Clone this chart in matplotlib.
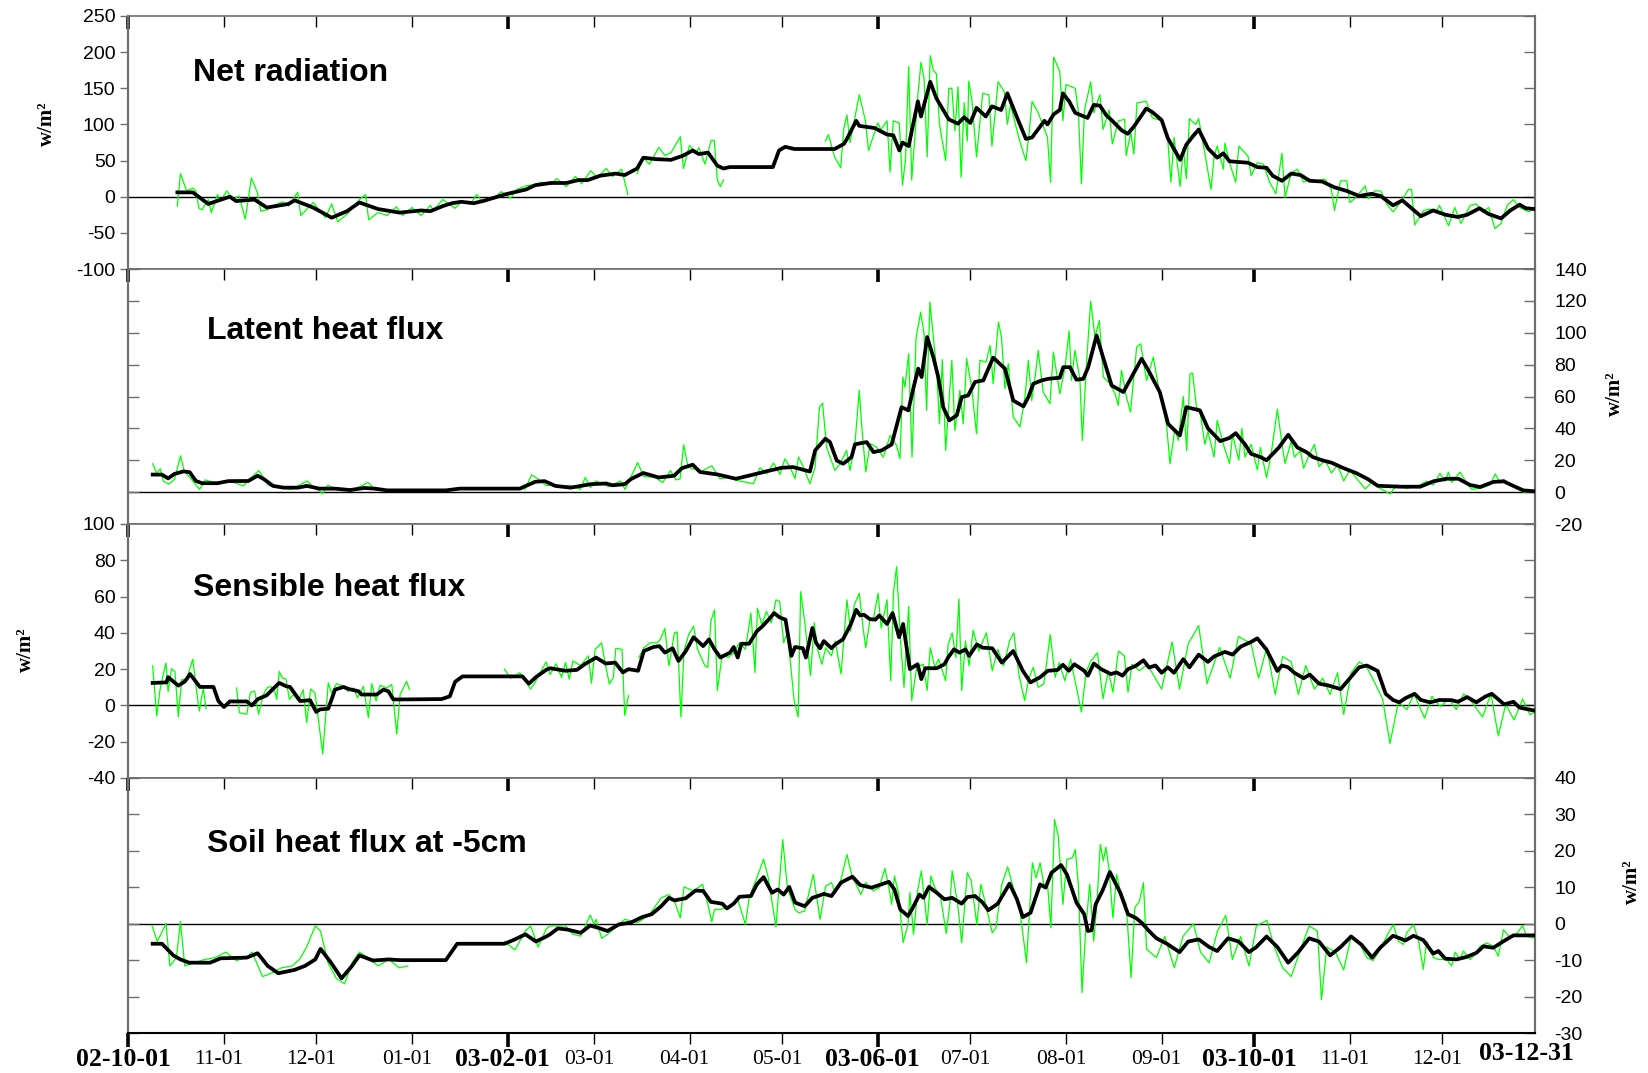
import numpy as np
import matplotlib
matplotlib.use('Agg')
import matplotlib.pyplot as plt
from matplotlib import transforms

plt.rcParams['axes.unicode_minus'] = False
nan = np.nan

# ---------------- axis definition (days since 2002-10-01) ----------------
month_days = [0, 31, 61, 92, 123, 151, 182, 212, 243, 273, 304, 335, 365, 396, 426]
month_labels = ['02-10-01', '11-01', '12-01', '01-01', '03-02-01', '03-01', '04-01', '05-01',
                '03-06-01', '07-01', '08-01', '09-01', '03-10-01', '11-01', '12-01']
major_days = [0, 123, 243, 365]
end_day = 456
end_label = '03-12-31'

# ---------------- Net radiation ----------------
nr_black_d = [16, 21, 26, 33, 35, 41, 45, 52, 54, 60, 66, 71, 75, 81, 88, 95, 98, 102, 105, 108, 112, 115,
              119, 122, 125, 129, 132, 137, 142, 146, 149, 153, 158, 161, 165, 167, 171, 176, 180, 183,
              185, 188, 191, 193, 195, 209, 211, 213, 216, 229, 232, 233, 236, 237, 242, 246, 248, 250,
              251, 253, 256, 257, 260, 262, 266, 269, 271, 273, 275, 278, 280, 283, 285, 288, 291, 293,
              297, 298, 300, 302, 303, 305, 307, 311, 313, 315, 317, 319, 322, 324, 326, 330, 332, 335,
              337, 341, 343, 345, 347, 350, 353, 355, 357, 363, 366, 369, 371, 374, 377, 380, 383, 387,
              391, 395, 399, 403, 406, 410, 413, 419, 423, 427, 431, 434, 438, 441, 445, 448, 451, 453, 456]
nr_black_v = [6, 6, -10, 0, -6, -4, -15, -10, -5, -15, -29, -20, -8, -17, -22, -19, -20, -13, -9, -7, -9, -6,
              -1, 3, 6, 10, 16, 19, 19, 23, 23, 29, 32, 30, 39, 54, 52, 51, 57, 64,
              59, 61, 43, 39, 41, 41, 64, 69, 66, 66, 73, 80, 105, 98, 95, 86, 85, 64,
              75, 70, 132, 111, 159, 136, 107, 101, 110, 102, 123, 111, 125, 120, 143, 111, 80, 82,
              105, 100, 114, 120, 143, 132, 116, 109, 127, 126, 113, 105, 92, 87, 97, 122, 117, 106,
              81, 51, 72, 83, 93, 67, 54, 60, 49, 47, 41, 40, 29, 22, 32, 30, 22, 21,
              13, 8, 1, 4, 1, -12, -5, -27, -19, -25, -28, -25, -16, -24, -30, -19, -11, -16, -17]
nr_green_d = [16, 17, 19, 21, 22, 23, 24, 26, 27, 29, 30, 32, 34, 36, 38, 40, 42, 43, 45, 47, 50, 52, 55,
              56, 58, 60, 64, 66, 68, 71, 75, 77, 78, 81, 84, 87, 89, 92, 95, 98, 99, 102, 106, 108, 111,
              113, 115, 119, 121, 124, 126, 129, 132, 134, 137, 139, 142, 145, 147, 150, 152, 155, 157,
              160, 162, 163.5, 165, 167, 169, 172, 174, 176, 179, 180, 182, 184, 185, 187, 189, 190, 191,
              192, 193, 195, 226, 227, 229, 231, 232, 233, 234, 237, 239, 240, 243, 244, 246, 247, 248,
              250, 251, 252, 253, 254, 256, 257, 258, 259, 260, 261, 262, 263, 265, 266, 267, 268, 269,
              270, 271, 272, 272.5, 273.5, 275, 277, 279, 280, 282, 284, 285, 286, 289, 291, 292, 293,
              295, 298, 299, 300, 302, 303, 304, 307, 308, 309, 310, 312, 313, 315, 316, 318, 319, 321,
              323, 323.5, 325, 326, 327, 330, 332, 335, 337, 338, 339, 341, 342, 343, 344, 346, 347, 349,
              351, 352, 353, 355, 355.5, 357, 359, 360, 363, 364, 366, 368, 370, 372, 374, 375, 377, 379,
              381, 383, 385, 388, 390, 391, 393, 395, 396, 398, 401, 402, 404, 406, 408, 410, 412, 415,
              416, 417, 420, 422, 424, 425, 428, 430, 432, 435, 437, 439, 441, 443, 445, 447, 449, 451,
              454, 456]
nr_green_v = [-13, 32, 8, 12, 8, -16, -18, -4, -22, 3, -6, 8, -4, 1, -31, 26, 5, -20, -18, -13, -7, -13, 6,
              -26, -17, -8, -29, -10, -35, -24, -4, 3, -32, -22, -26, -14, -26, -15, -26, -12, -19, -4, -16, -7, -10,
              3, -8, -1, 7, -2, 10, 15, 17, 20, 17, 25, 14, 28, 18, 36, 26, 39, 28,
              38, 3, nan, 32, 54, 45, 68, 57, 61, 83, 39, 71, 60, 68, 45, 78, 78, 23,
              14, 23, nan, 77, 86, 55, 40, 95, 113, 75, 141, 105, 64, 102, 93, 105, 34, 105,
              102, 16, 52, 180, 23, 141, 186, 164, 55, 195, 175, 170, 100, 50, 150, 150, 91, 152,
              27, 130, 77, 160, 134, 55, 143, 141, 70, 159, 145, 100, 127, 77, 50, 86, 132,
              116, 82, 20, 193, 173, 105, 155, 150, 118, 18, 120, 159, 116, 141, 93, 120, 73, 105,
              107, 57, 89, 59, 130, 132, 109, 105, 77, 20, 82, 14, 68, 25, 108, 100, 108, 60,
              10, 56, 70, 38, 74, 47, 20, 70, 56, 29, 47, 45, 20, 4, 60, -1, 33, 38,
              20, 24, 22, 24, 10, -19, 22, 22, -8, -1, 15, -3, 8, 8, -10, -21, -10, 10,
              10, -39, -19, -17, -21, -12, -40, -15, -37, -12, -10, -21, -15, -44, -37, -12, -4, -15,
              -21, -15]

# ---------------- Latent heat flux ----------------
le_black_d = [8, 11, 13, 15, 18, 20, 22, 24, 29, 32.5, 39, 42, 44, 47, 50.5, 55, 58, 62, 67, 72, 76.5, 80,
              84, 103, 107.5, 127, 132, 135, 138.5, 143.5, 150, 155, 157, 161, 163, 167, 172, 177, 179.5,
              183, 185.4, 191, 197, 201.6, 207, 212, 215.6, 221, 222.7, 226, 227.5, 229.7, 231.8, 234.5,
              235.6, 239.4, 241.6, 244.3, 247.5, 250.7, 252.9, 254.5, 256.1, 257.2, 259, 261, 262.6,
              264.2, 266.2, 268.6, 270.2, 272.3, 274.5, 277.2, 280.4, 284.2, 286.9, 290.2, 291.8, 293.4,
              296.1, 298.3, 302, 303.1, 305.3, 307.4, 309.6, 311.2, 313.9, 316, 318.8, 322.6, 325.8,
              328.5, 330.7, 334.4, 337.1, 340.9, 343, 347.4, 350, 354, 357, 359, 362, 364, 367, 369, 373,
              376, 379, 382, 384, 387, 390, 394, 398, 402, 405, 412.3, 418.8, 423.1, 427.4, 431.2, 434.9,
              438.2, 442.5, 445.8, 449, 452.2, 456]
le_black_v = [11, 11, 8.6, 11.4, 13, 12.5, 7, 5.6, 5.6, 6.9, 7, 10.3, 8.2, 3.9, 2.8, 2.8, 3.9, 2.2, 2.2, 1.3, 2.6, 2.2,
              1.1, 1.1, 2.2, 2.2, 6.5, 6.9, 3.9, 2.8, 5, 5.4, 4.3, 5, 8.2, 12, 9.2, 10.3, 15,
              17.2, 12.6, 11.1, 8.4, 10.5, 13.1, 15.3, 15.7, 12.9, 26.2, 33.5, 31.4, 19.8, 17.8, 22,
              30, 31.4, 25.1, 26.2, 30, 53.3, 51.3, 64.9, 77.5, 72.2, 97.3, 84.7, 72.2,
              53.3, 45, 48.2, 59.6, 60.7, 69.1, 70.1, 84.4, 77.5, 57.5, 53.8, 59.6, 68,
              70.1, 71.1, 71.8, 78.4, 78.4, 70.5, 71.1, 78.4, 98.3, 84.7, 66.9, 62.8, 74.2,
              83.7, 76.4, 62.8, 42.8, 35.6, 53.3, 51.3, 40, 32, 34, 37, 30, 24, 22, 20, 28,
              36, 28, 25, 22, 20, 18.5, 15, 12, 8, 4, 3.4, 3.4, 6.8, 8.4, 8.4, 4.5,
              3.2, 6.4, 6.8, 3.9, 1.1, 0.5]
le_green_d = [8, 9.3, 10.5, 11.4, 13.2, 15.1, 17, 18.2, 20.7, 23.2, 25, 28, 33, 37.4, 40, 42.4, 45.5, 49.2, 53,
              58, 60.4, 63.2, 64.7, 67.8, 72.8, 77.8, 80.2, 85, 100, 128.6, 130.8, 132.9, 135.4, 139.8,
              144.1, 146.6, 148.2, 149.9, 151.6, 155.9, 159.6, 161.1, 162.7, 165.2, 167.1, 170.8, 173.3,
              175.8, 177.6, 178.9, 180.1, 181.3, 182.6, 184.4, 185.4, 189.2, 191.9, 195.1, 197.3, 202.7,
              204.8, 207, 209.2, 211.3, 212.9, 214.6, 216.2, 217.3, 218.9, 221, 222.7, 224.1, 225.1,
              226.4, 229.1, 230.8, 232.9, 234, 235.6, 237, 238, 239.1, 240.5, 242.6, 244.8, 247, 249.1,
              250.2, 251.1, 251.8, 253, 254.1, 255.4, 256.9, 258, 258.8, 259.9, 261, 262.1, 263, 263.9,
              265, 267, 268, 269.6, 270.7, 271.8, 273.4, 275, 276.1, 278.1, 279.4, 280.4, 282.1, 283.1,
              284.2, 285.3, 286.9, 289.1, 290.7, 291.8, 292.9, 293.9, 295, 296.6, 298.8, 299.9, 302,
              303.7, 305, 305.8, 306.9, 308.5, 309.3, 310.7, 312, 313.4, 314.8, 316.1, 318.2, 319.9,
              320.9, 322, 323.6, 324.9, 326.9, 328.2, 330.1, 332.3, 333.9, 335, 336.6, 337.7, 339.3,
              340.4, 342, 343.1, 344.2, 345, 346.3, 347.4, 349, 350, 352, 353, 355, 357, 358, 360, 361,
              362, 364, 366, 367, 369, 370.5, 372.5, 374, 375, 377, 378, 380, 381, 383, 384.5, 386, 388,
              390, 392, 394, 396, 398, 401, 403, 405.8, 409, 411.2, 414.4, 418.8, 420.9, 423.1, 425.2,
              426.9, 427.9, 429, 431.7, 433.9, 435.5, 438.2, 441.4, 443.1, 444.7, 445.8, 449, 452.2, 456]
le_green_v = [17.8, 12, 14.6, 7, 5, 8, 22.8, 13.5, 7.7, 1.7, 7.7, 6, 7, 3.9, 9.2, 13.5, 4.3, 2.8, 1.7,
              7, 2.8, -0.9, 4.3, 1.7, 1.3, 6, 1.3, 1.1, nan, 1.7, 10.8, 8.2, 4.3, 3.9,
              3.9, 1.7, 9.2, 2.8, 7, 3.4, 7, 1.7, 8.2, 18.5, 9.9, 9.2, 6,
              13.5, 7.7, 8.2, 29.7, 17.8, 14.6, 14.6, 12.6, 16.5, 8.4, 9.4, 7.3, 5.3,
              15.3, 11.5, 18.2, 11.1, 20.9, 15.6, 8.4, 22, 15.6, 5.3, 15.6, 53.3, 55.8,
              28.2, 13.6, 17.8, 26.2, 13.6, 30.4, 63.8, 36.6, 12.6, 30.4, 28.2, 22, 35.6, 29.2,
              20.9, 72.2, 65.9, 86.8, 22, 96.3, 112.9, 99.2, 51.3, 119.3, 97.3, 76.4, 42.8, 83.1,
              26.2, 82.7, 38.7, 63.8, 42.8, 83.7, 65.9, 36.6, 82.7, 81.6, 92, 68, 106.7, 97.3,
              64.9, 80.6, 47.1, 40.9, 59.6, 82.7, 57.5, 71, 88.9, 62.8, 55.5, 87.9, 61.7,
              78.4, 101.2, 70.1, 88.9, 71, 32.4, 82.7, 119.7, 97.3, 107.8, 72.2, 68, 61.7,
              54.4, 76.4, 59.6, 50.2, 91, 93.1, 70.1, 84.7, 66.9, 57.5, 41.8, 17.8, 39.8,
              32.4, 60, 26.2, 74.2, 74.7, 53.3, 51.3, 30, 38, 22, 45, 30, 18, 36, 20, 40,
              22, 30, 14, 28, 9, 24, 52, 30, 18, 32, 22, 26, 15, 24, 30, 16, 20,
              12, 17, 7, 14, 9, 2, 6, 2.3, -1.1, 4.5, 2.3, 4.5, 6.8, 4.5, 11.8,
              6.8, 12.5, 6.1, 12.5, 5.7, 1.8, 2.3, 4.5, 11.4, 5.7, 8, 3.4, 0, 0.5]

# ---------------- Sensible heat flux ----------------
sh_black_d = [8, 12.5, 13, 16.3, 18.5, 20.1, 23.3, 27.7, 29.3, 31.1, 33, 38.5, 40.1, 42.2, 44.9, 46.6, 49,
              51.4, 52.5, 55.8, 59, 61, 62.2, 64.9, 67.1, 69.8, 71.4, 74.7, 75.7, 80.6, 82.8, 84.4, 86,
              88.2, 101.6, 104.3, 106, 108.4, 127.8, 129.9, 132.2, 135.6, 136.8, 141.8, 145.5, 148,
              151.7, 154.8, 157.9, 160.4, 162.2, 165.3, 167.2, 170.3, 172.2, 174, 176.5, 178.4, 180.8,
              183.3, 186.4, 188.3, 190.1, 192, 195.1, 196.3, 197.6, 198.8, 201.3, 203.8, 205.6, 208.1,
              209.4, 211.2, 213.1, 215, 216.2, 218.7, 219.7, 221.8, 223, 224.3, 225.5, 228, 229.2,
              231.7, 234.2, 236, 237.3, 238.5, 240.4, 242.2, 243.5, 246, 247.8, 249.9, 251.2, 253.4,
              255.9, 257.1, 258.4, 262.1, 264.6, 265.8, 267.7, 269.5, 271.4, 272.6, 275.1, 277, 280.1,
              283.2, 286.9, 290, 292.5, 295.6, 298.1, 301.2, 303, 304.9, 306.7, 309.9, 311.1, 313,
              315.4, 318.5, 320.4, 322.3, 324.1, 326.6, 329.1, 330.9, 333, 335, 337, 339, 342, 344, 347,
              350, 352, 355.5, 358, 360.6, 364, 366, 369, 372.5, 374, 376, 378, 381, 383, 386, 389, 393,
              396, 399, 401.5, 405, 407.6, 410, 412, 414, 417, 419, 422, 425, 429, 431, 434, 437, 440,
              442, 446, 449, 451, 456]
sh_black_v = [12.4, 12.7, 15.6, 10.9, 13.3, 17.3, 10.2, 10.2, 2.4, -0.9, 2.2, 2.2, 0, 3.6, 5.5, 8.4, 12.4,
              10.5, 10.2, 2.4, 2.9, -3.6, -2.2, -1.8, 8.7, 10.2, 9.1, 7.8, 6, 6, 8.7, 7.8, 3.3,
              3.3, 3.5, 5, 13, 16, 16, 12, 15.6, 19.7, 20.5, 19.1, 19.6, 22.7,
              26.4, 23.1, 23.6, 18.2, 20, 19.1, 30, 32.2, 32.7, 29.1, 31.5, 24.5, 30,
              37.6, 32.7, 36.4, 30.9, 26.4, 29.1, 32.2, 26.4, 34, 34, 40.9, 43.6, 48.2,
              50.9, 48.5, 47.3, 27.3, 32.2, 31.5, 26.4, 42.7, 34.5, 31.5, 35.5, 31.5, 33.6,
              36.4, 44.5, 52.7, 49.6, 50, 47.6, 47.3, 49.6, 44.9, 50.9, 37.6, 44.9, 20,
              22.7, 14.5, 20.5, 20.5, 22.7, 26.4, 30.9, 29.1, 30.9, 27.3, 33.6, 31.8, 31.5,
              23.6, 30, 19.1, 12.7, 15.5, 19.1, 19.5, 22.4, 19.1, 22.7, 19.1, 16.4, 23.1,
              20, 17.3, 18.2, 16.4, 20, 21.8, 24.9, 20.9, 22, 18, 21, 18, 25.5, 21, 28,
              24, 27, 29.5, 28, 32.4, 35, 37, 30.7, 19, 22, 21, 18, 15, 17, 12, 11, 9,
              15, 21, 22, 19, 6.4, 3, 1.7, 4, 6.4, 3, 1.7, 3, 2.9, 2, 4.6, 1.7, 5,
              6.4, 0.6, 2, -1.2, -2.9]
sh_green_d = [8, 9.3, 10.4, 11.5, 12.3, 13, 14.1, 15.2, 16.3, 17.4, 19, 21, 22.3, 23.1, 24.4, 25.3, 30,
              35.2, 36.1, 38.5, 39.7, 41.1, 42.3, 43.9, 45, 46.3, 47.7, 48.2, 49, 50.1, 51.2, 52.3, 53.6,
              55.2, 56.8, 57.9, 59.2, 60.6, 63.1, 64.9, 66, 67.6, 69.8, 71.4, 73.1, 74.4, 76.3, 77.9, 79,
              80.4, 81.7, 83.8, 85.5, 87.1, 88.2, 90.3, 91.2, 105, 122, 124, 127, 130.5, 132, 135.5,
              136.8, 138.7, 140.5, 141.8, 143, 144.2, 146.7, 149.2, 150.2, 151.4, 153.5, 154.8, 156,
              157.3, 158.1, 160.1, 161, 162.2, 164, 165.6, 167.2, 169.3, 171.5, 172.5, 174, 175.3, 177.1,
              178, 179.2, 180.2, 181.7, 183.3, 184.6, 187, 187.9, 188.9, 190.1, 191, 192.6, 194.5, 196.3,
              198.2, 200.1, 201.9, 203.2, 204, 205.4, 206.9, 208.5, 210, 211.2, 212.5, 213.7, 215.9,
              217.2, 218, 219.3, 221.2, 222.4, 223.6, 224.9, 226.1, 228, 229.2, 231.1, 233, 234.2, 235.4,
              237, 238.3, 239.1, 240.4, 241.6, 243.1, 244.1, 246, 247.2, 248.1, 249.1, 250.3, 251.5, 253,
              254, 255.6, 257.7, 259, 260, 261.5, 262.7, 265, 265.8, 267.1, 268.3, 269.3, 270.2, 271.4,
              272.6, 273.9, 275.7, 278.2, 280.1, 281.9, 283.8, 285.7, 287.1, 288.8, 290.6, 291.9, 293.4,
              295, 296.8, 298.9, 300.5, 301.8, 303.6, 305.5, 306.7, 309, 310.5, 312, 314.2, 316, 317.7,
              319.2, 321, 322.9, 324.1, 325.4, 327.8, 330.3, 335, 338.4, 340.8, 343.6, 347, 349.7, 353.8,
              357.2, 359.9, 364, 366.4, 369.1, 371.8, 374.2, 377, 379.3, 381.7, 384.5, 387.2, 389.6, 392,
              394, 396.4, 399.1, 401.5, 404.2, 406.6, 409, 411.7, 414.5, 416.8, 420.2, 422.6, 425.3,
              428.1, 430.5, 432.9, 435.6, 439, 441.7, 444.1, 446.5, 449.2, 452, 454.3, 456]
sh_green_v = [21.8, -5.8, 9, 17.8, 23.3, 7.6, 20.2, 18.7, -6.2, 14.2, 14.5, 25.5, 6.9, -3.1, 9.6, -1.8, nan,
              9.6, -4, -4.9, 7.3, 7.8, -4.9, 6, 9.6, 10.5, 6.9, 3.3, 18.7, 15, 14.5, 3.3, 6,
              2.4, 8.7, -9.5, 9, 6.9, -26.7, 12.4, 6.9, 12, 10.5, 7.8, 9.6, 4.2, 10.5, -6.7, 12,
              2.4, 11.1, 9.6, 11.5, -15.8, 6, 13.3, 8.7, nan, 20, 15, 18, 9, 13, 24,
              17, 23, 15.5, 23.6, 14.5, 24.5, 22, 27.3, 12.2, 30.9, 34.5, 21.8, 11.8,
              15.5, 31.5, 30.9, -5.5, 5.5, nan, 26.4, 31.8, 34.5, 34.5, 36.4, 42.4, 21.8, 40,
              40.5, -6.4, 30, 39, 43.6, 30.9, 21.8, 21, 46.4, 52.7, 8.2, 28.2, 26.4, 29,
              34.5, 30.9, 50.9, 18.2, 53.6, 44.5, 51.8, 45.5, 58.2, 57.3, 34.5, 40, 2.7,
              -6.4, 62.7, 46.4, 16.4, 45.5, 30, 22.7, 31.8, 27.3, 35.5, 17.3, 58.2, 41, 55.5,
              61.8, 41.8, 31.8, 46.4, 47.8, 61.8, 42.7, 58.2, 13.6, 62.7, 76.4, 37.3, 10, 54.5,
              2.7, 21, 22.7, 8.2, 31.8, 21, 25.5, 13.6, 33.6, 40, 26.4, 58.7, 8.2, 35.5,
              21.8, 41.5, 30, 40, 19.1, 30.9, 21.8, 35.5, 40, 16.4, 2.7, 14.5, 21,
              10, 11.8, 39, 15.5, 23.6, 13.6, 25.5, 15.5, -3.6, 18.2, 24.5, 29, 3.6, 19.1,
              7.3, 30, 27.3, 7.3, 22.7, 19.1, 22.7, 9, 35, 9, 34, 44, 12, 32,
              15, 38, 34, 15, 32, 6, 27, 24, 6, 22, 9, 15, 6, 18,
              -5, 18, 24, 21, 12, 3.5, -21, 1.7, -2.3, 6.4, -7, 5, -0.6,
              3.5, -2.3, 6.4, 1.7, -6.4, 6.4, -16.8, 0.6, -8, 3.5, -5, -4]

# ---------------- Soil heat flux at -5 cm ----------------
gs_black_d = [8, 11, 14.7, 17, 19.8, 26.6, 30, 38.5, 42, 45.3, 48.7, 53.9, 57.3, 60.7, 62.4, 65.8, 69.2, 72.6,
              75, 79.4, 84.5, 88, 103, 106.7, 122, 125.4, 128.8, 132.2, 135.6, 136.8, 139.3, 142.4, 146.7,
              149.8, 152.3, 155.4, 159.1, 162.9, 166.6, 169.7, 172.8, 175.3, 177.1, 180.8, 183.9, 186.4,
              188.9, 192.6, 194.1, 196.3, 198.2, 201.9, 203.8, 206, 208.7, 210.6, 212.5, 214.3, 216.2,
              219.3, 221.8, 223.6, 225.5, 228, 231.1, 234.8, 237.3, 241, 244.1, 246.6, 248.4, 250.3,
              252.8, 254.6, 256.5, 257.8, 259.6, 262.1, 264.6, 267.1, 270.2, 272, 274.5, 277, 278.8,
              281.9, 285.7, 288.1, 290, 292.5, 295.6, 297.4, 299.3, 302.4, 304.3, 307.4, 309.9, 311.1,
              312.3, 313.6, 316, 318.2, 321.6, 324.1, 326.6, 328.5, 330.9, 333.3, 336.7, 340.8, 343.6,
              347, 350.4, 353, 356.5, 360, 363.3, 365.7, 369, 372.5, 376, 379.3, 382.8, 386, 389.6, 393,
              396.4, 399.8, 403.2, 405.8, 410, 414, 416.6, 419.8, 423, 424.7, 426.9, 430.6, 433.9, 437,
              439.3, 442.5, 445.8, 449, 456]
gs_black_v = [-5.5, -5.5, -8.7, -9.8, -10.7, -10.7, -9.5, -9.3, -8.1, -11.6, -13.6, -12.7, -11.6, -9.8, -6.9, -10.7, -15, -11.6,
              -8.7, -10.1, -9.8, -10, -10, -5.5, -5.5, -4.3, -2.9, -4.9, -3.5, -2.9, -1.3, -1.6, -2.5,
              -0.5, -1.1, -2, -0.2, 0.3, 1.8, 2.6, 4.8, 7.1, 6.4, 7, 9.1, 9,
              6, 5.5, 4.2, 5.5, 7.4, 7.6, 10.8, 12.8, 8.5, 9.4, 8, 10.1, 5.8,
              4.8, 7.1, 7.6, 8.2, 7.6, 11.3, 12.9, 10.6, 9.9, 10.8, 11.5, 9.4, 3.9,
              2.1, 4.8, 8, 7.1, 10.1, 8.5, 6.7, 7.1, 5.5, 7.3, 7.6, 5.8, 3.7,
              5.5, 11, 6.7, 1.8, 3, 10.8, 9.9, 14, 16.1, 13.5, 5.8, 2.6, -2,
              -1.8, 5.3, 9.4, 14.2, 8.5, 2.6, 1.6, 0.3, -2, -4, -5.5, -7.8, -4.9,
              -4.3, -6.4, -7.5, -4, -4.9, -7.8, -6.4, -3.5, -6.4, -10.7, -7.8, -4, -4.9, -8.7, -6.4,
              -3.5, -5.8, -9.3, -6.6, -3.3, -4.6, -3.3, -4.5, -8.2, -7.5, -9.6, -9.8, -9.1, -8,
              -6.2, -6.6, -4.8, -3.2, -3.2]
gs_green_d = [7.8, 9.5, 12.3, 13.6, 15.7, 17, 18.4, 21.5, 24.9, 28.3, 31.7, 35.1, 38.5, 40.2, 43.6, 46.4, 49.8,
              53.2, 55.6, 57.9, 60.7, 62.4, 64.8, 67.5, 70.2, 72.6, 75, 77.7, 81.1, 84.5, 87.9, 90.7, 105,
              122, 125.4, 128.8, 130.5, 132.9, 135.6, 136.8, 141.8, 144.2, 146.7, 149.8, 151.1, 151.7,
              153.5, 155.4, 157.9, 161, 165.3, 169.1, 172.8, 175.3, 177.1, 179, 180.2, 183.3, 186.2,
              187.7, 189.2, 190.1, 192, 195.1, 197.6, 200.1, 201.3, 203.8, 206, 207.5, 210, 212.2,
              213.7, 216.2, 217.4, 219.3, 222.1, 224.3, 226.1, 228, 229.2, 231.1, 233, 234.8, 236,
              237.5, 239.1, 241.6, 243.5, 245.3, 246.6, 247.5, 248.4, 249.7, 251.2, 252.8, 253.4, 254.6,
              255.9, 257.1, 259, 260.2, 261.5, 263.3, 265.2, 266.4, 267.1, 268.9, 270.2, 272, 273.3,
              275.1, 276.4, 278.2, 280.1, 281.3, 283.2, 285.1, 286.9, 288.8, 291.2, 293.1, 294.3, 295.6,
              296.8, 298.1, 299.1, 300.3, 301.5, 303, 304.3, 306.1, 307, 308, 309.2, 310.5, 311.7, 313,
              314.2, 315.1, 316.1, 316.9, 317.9, 319.2, 320.4, 321.6, 323.5, 325.1, 326.3, 327.8, 329.1,
              330.1, 333.3, 336, 339.1, 341.9, 345.3, 347.6, 350.4, 353.1, 355.8, 357.9, 360.6, 363.3,
              365.7, 369.1, 371.5, 374.2, 377, 379.7, 382.8, 385.5, 386.8, 388.5, 391.3, 394, 396.4,
              398.8, 401.5, 403.5, 405.8, 408.5, 410.1, 411.7, 413.4, 414.4, 416.6, 418.2, 419.8, 420.9,
              423.1, 424.7, 427.4, 429, 430.1, 431.7, 432.8, 435, 436.6, 438.2, 440.4, 442.5, 444.1,
              445.8, 447.9, 450.1, 452, 453.3, 455.5]
gs_green_v = [-0.6, -4.9, 0, -11.6, -9.3, 0.6, -11.6, -10.7, -9.8, -9.3, -7.8, -10.1, -9.3, -7.8, -14.5, -13.6, -12.1,
              -11.6, -9.8, -6.4, -0.6, -2, -10.7, -15, -16.5, -10.7, -7.8, -9.3, -11.6, -9.8, -12.1, -11.6, nan,
              -4.9, -7.2, -2, -0.6, -6.4, -1.4, -0.6, -0.6, -2.9, -3.4, 2.4, -0.2, 1.2,
              -4, -2.9, -1.1, 1.2, 0.3, 2.6, 7.1, 8, 6.2, 1.6, 10.1, 9, 10.8,
              6.2, 0.5, 3.9, 3.9, 4.8, 6.7, -0.2, 7.1, 12.6, 17.7, 12.6, -0.9, 23.1,
              9.9, 3.9, 3, 3.5, 13.5, 1.2, 10.3, 11.3, 8.5, 12.2, 19, 12.6, 10.8,
              8, 11.3, 9, 9.9, 15.2, 9.9, 5.3, 13.1, 8.5, -5.2, -0.2, 8.5, -2.9,
              9, 14.5, -0.2, 13.1, 9.9, 7.6, -2.7, 5.8, 14.5, 5.3, -5.2, 14, 11.7,
              -0.2, 10.8, 4.4, -2.5, -1.1, 10.8, 15.6, 9.9, 5.3, -10.7, 16.7, 12.6, 16.7,
              10.8, 9.9, -1.1, 28.6, 24, 5.3, 17.7, 18.1, 20.4, 10.8, -18.9, -0.2, 10.8, -4.8,
              8, 21.8, 17.2, 21, 15.4, 1.6, 13.5, 9, 5.3, -14.8, 4.4, 6.2, 11.3,
              -7, -9.3, -3.5, -12.1, -3.5, 0, -7.8, -10.7, -2, 2.3, -9.8, -3.5, -11.6,
              -0.6, 0.9, -6.4, -12.1, -14.5, -7.8, -0.6, -2, -20.8, -6.4, -7.8, -12.7, -3.5,
              -4.9, -9.3, -10.1, -7.1, -2.5, -0.3, -4.8, -5.7, -2.5, -0.3, -4.4, -12.5, -4.8,
              -9.3, -9.8, -9.8, -11.6, -7.8, -9.8, -7.5, -9.8, -8.4, -6.2, -5.3, -6.2, -8.9,
              -1.6, -3.9, -2.7, -0.5, -3.5, -3.9]

# ---------------- panel settings ----------------
titles = ['Net radiation', 'Latent heat flux', 'Sensible heat flux', 'Soil heat flux at -5cm']
ylims = [(-100, 250), (-20, 140), (-40, 100), (-30, 40)]
ysteps = [50, 20, 20, 10]
label_side = ['left', 'right', 'left', 'right']
series = [(nr_green_d, nr_green_v, nr_black_d, nr_black_v),
          (le_green_d, le_green_v, le_black_d, le_black_v),
          (sh_green_d, sh_green_v, sh_black_d, sh_black_v),
          (gs_green_d, gs_green_v, gs_black_d, gs_black_v)]
title_pos = [(0.046, 0.775), (0.056, 0.757), (0.046, 0.749), (0.056, 0.741)]
ylabel_pos = [(47, 124), (1615, 394), (26, 650), (1632, 882)]

W, H = 1649, 1073
fig = plt.figure(figsize=(W / 100, H / 100), dpi=100)
edges = [16, 269, 524, 778, 1033]
left_px, right_px = 128, 1535

spine_col = '#6e6e6e'
minor_days = [d for d in month_days if d not in major_days]
major_labels = [month_labels[month_days.index(d)] for d in major_days]
minor_labels = [month_labels[month_days.index(d)] for d in minor_days]
label_shift = transforms.ScaledTranslation(-5 / 100, 0, fig.dpi_scale_trans)

axes = []
for i in range(4):
    top, bot = edges[i], edges[i + 1]
    ax = fig.add_axes([left_px / W, 1 - bot / H, (right_px - left_px) / W, (bot - top) / H])
    axes.append(ax)
    gd, gv, bd, bv = series[i]
    ax.axhline(0, color='black', lw=1.0, zorder=1)
    ax.plot(gd, gv, color='#00ff00', lw=0.9, zorder=2)
    ax.plot(bd, bv, color='black', lw=2.7, zorder=3, solid_joinstyle='round')
    ax.set_xlim(0, end_day)
    lo, hi = ylims[i]
    ax.set_ylim(lo, hi)
    yt = np.arange(lo, hi + 0.1, ysteps[i])
    ax.set_yticks(yt)
    ax.set_yticklabels([str(int(v)) for v in yt])
    for s in ['left', 'right']:
        ax.spines[s].set_color(spine_col)
        ax.spines[s].set_linewidth(1.6)
    ax.spines['top'].set_color(spine_col)
    ax.spines['top'].set_linewidth(1.2)
    ax.spines['bottom'].set_color(spine_col if i < 3 else 'black')
    ax.spines['bottom'].set_linewidth(1.2 if i < 3 else 1.5)

    if label_side[i] == 'left':
        ax.tick_params(axis='y', left=True, right=False, labelleft=True, labelright=False,
                       direction='out', length=6, width=1, labelsize=14, pad=3, color=spine_col)
        sec = ax.secondary_yaxis('right')
        sec.set_yticks(yt)
        sec.tick_params(axis='y', direction='in', length=8, width=1, labelright=False, color=spine_col)
        sec.spines['right'].set_visible(False)
    else:
        ax.tick_params(axis='y', left=True, right=True, labelleft=False, labelright=True,
                       direction='in', length=8, width=1, labelsize=14, pad=14, color=spine_col)
    for lab in ax.get_yticklabels():
        lab.set_fontfamily('Liberation Sans')

    # top (inward) month ticks on every panel
    tsec = ax.secondary_xaxis('top')
    tsec.set_xticks(major_days)
    tsec.set_xticks(minor_days, minor=True)
    tsec.tick_params(axis='x', which='major', direction='in', length=9, width=2.6,
                     labeltop=False, color='black')
    tsec.tick_params(axis='x', which='minor', direction='in', length=8, width=1.0,
                     labeltop=False, color='black')
    tsec.spines['top'].set_visible(False)

    if i < 3:
        ax.tick_params(axis='x', which='both', bottom=False, top=False, labelbottom=False)
    else:
        ax.set_xticks(major_days)
        ax.set_xticklabels(major_labels)
        ax.set_xticks(minor_days, minor=True)
        ax.set_xticklabels(minor_labels, minor=True)
        ax.tick_params(axis='x', which='major', direction='out', length=10, width=2.6, pad=1,
                       top=False)
        ax.tick_params(axis='x', which='minor', direction='out', length=8, width=1.0, pad=4,
                       top=False)
        for lab in ax.get_xticklabels():
            lab.set_fontfamily('Liberation Serif')
            lab.set_fontweight('bold')
            lab.set_fontsize(18.5)
            lab.set_transform(lab.get_transform() + label_shift)
        for lab in ax.get_xticklabels(minor=True):
            lab.set_fontfamily('Liberation Serif')
            lab.set_fontsize(15.5)
            lab.set_transform(lab.get_transform() + label_shift)
        trans = transforms.blended_transform_factory(ax.transData, ax.transAxes)
        trans = transforms.offset_copy(trans, fig=fig, x=-9, y=0, units='dots')
        ax.text(end_day, -0.082, end_label, transform=trans, ha='center', va='center',
                fontfamily='Liberation Serif', fontweight='bold', fontsize=18.5)

    tx, ty = title_pos[i]
    ax.text(tx, ty, titles[i], transform=ax.transAxes, ha='left', va='center',
            fontfamily='Liberation Sans', fontweight='bold', fontsize=23)

    lx, ly = ylabel_pos[i]
    fig.text(lx / W, 1 - ly / H, 'w/m\u00b2', rotation=90, ha='center', va='center',
             fontfamily='Liberation Serif', fontweight='bold', fontsize=15)

fig.savefig('out.png', dpi=100)
